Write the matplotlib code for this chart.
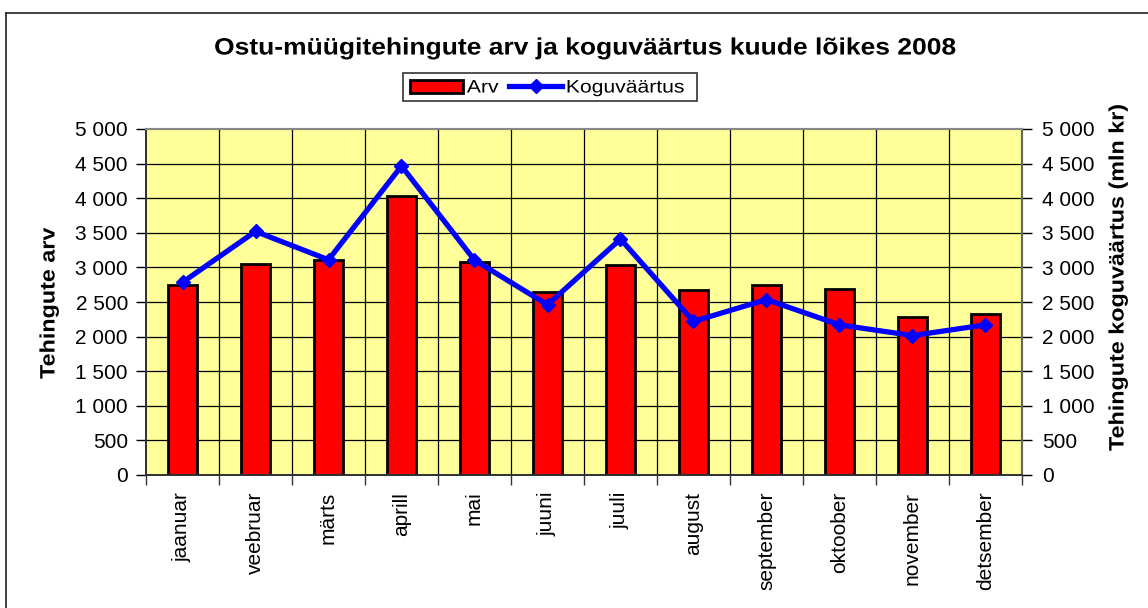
import matplotlib
matplotlib.use("Agg")
import matplotlib.pyplot as plt
from matplotlib.lines import Line2D
from matplotlib.patches import Patch, Rectangle
from matplotlib.patheffects import AbstractPathEffect
from matplotlib.transforms import Affine2D
import numpy as np

months = ["jaanuar", "veebruar", "märts", "aprill", "mai", "juuni", "juuli",
          "august", "september", "oktoober", "november", "detsember"]
arv = [2750, 3050, 3105, 4035, 3085, 2645, 3035, 2675, 2740, 2685, 2290, 2330]
koguvaartus = [2785, 3520, 3110, 4465, 3105, 2460, 3410, 2220, 2535, 2170, 2015, 2170]
yticks = [0, 500, 1000, 1500, 2000, 2500, 3000, 3500, 4000, 4500, 5000]
ytick_labels = ["0", "500", "1 000", "1 500", "2 000", "2 500", "3 000",
                "3 500", "4 000", "4 500", "5 000"]

plt.rcParams['font.family'] = ['Liberation Sans', 'DejaVu Sans']


class HStretch(AbstractPathEffect):
    """Stretch text horizontally (along its baseline) around an anchor."""
    def __init__(self, sx, anchor="center"):
        super().__init__()
        self.sx = sx
        self.anchor = anchor

    def draw_path(self, renderer, gc, tpath, affine, rgbFace=None):
        ext = tpath.get_extents()
        if self.anchor == "center":
            cx = 0.5 * (ext.x0 + ext.x1)
        elif self.anchor == "left":
            cx = ext.x0
        else:
            cx = ext.x1
        t = Affine2D().translate(-cx, 0).scale(self.sx, 1).translate(cx, 0)
        renderer.draw_path(gc, tpath, t + affine, rgbFace)


W, H = 1148, 608
fig = plt.figure(figsize=(W / 100, H / 100), dpi=100)
fig.patch.set_facecolor("white")

# figure border (left and top visible)
fig.add_artist(Line2D([6 / W, 6 / W], [0, 1 - 12.5 / H], transform=fig.transFigure, color="#222222", lw=1.2))
fig.add_artist(Line2D([6 / W, 1], [1 - 12.5 / H, 1 - 12.5 / H], transform=fig.transFigure, color="#222222", lw=1.2))

left, right = 146 / W, 1022 / W
bottom, top = (H - 475) / H, (H - 129) / H
ax = fig.add_axes([left, bottom, right - left, top - bottom])
ax.set_facecolor("#FFFF99")

x = np.arange(len(months))
ax.bar(x, arv, width=0.41, color="#FF0000", edgecolor="black", linewidth=2.0, zorder=3)
ax.set_xlim(-0.5, len(months) - 0.5)
ax.set_ylim(0, 5000)

ax2 = ax.twinx()
ax2.plot(x, koguvaartus, color="#0000FF", lw=3.8, marker="D", markersize=7, zorder=5)
ax2.set_ylim(0, 5000)

# grid
for v in yticks[1:-1]:
    ax.axhline(v, color="black", lw=0.9, zorder=1)
for b in np.arange(0.5, len(months) - 0.5, 1):
    ax.axvline(b, color="black", lw=0.9, zorder=1)

ax.set_yticks(yticks)
ax.set_yticklabels(ytick_labels, fontsize=15)
ax2.set_yticks(yticks)
ax2.set_yticklabels(ytick_labels, fontsize=15)

ax.set_xticks(np.arange(-0.5, len(months), 1), minor=False)
ax.set_xticklabels([])
ax.set_xticks(x, minor=True)
ax.set_xticklabels(months, minor=True, rotation=90, fontsize=15, va="top")
ax.tick_params(axis="x", which="major", length=7, width=1, direction="out", color="#333333")
ax.tick_params(axis="x", which="minor", length=0, pad=12)
ax.tick_params(axis="y", length=7, width=1, direction="out", pad=6)
ax2.tick_params(axis="y", length=7, width=1, direction="out", pad=7.5)

for a in (ax, ax2):
    a.spines["top"].set_color("#888888")
    a.spines["top"].set_linewidth(1.5)
    a.spines["left"].set_color("#333333")
    a.spines["left"].set_linewidth(1.3)
    a.spines["right"].set_color("#666666")
    a.spines["right"].set_linewidth(1.5)
    a.spines["bottom"].set_color("#333333")
    a.spines["bottom"].set_linewidth(1.3)

# axis titles
fig.text(49 / W, 1 - 303 / H, "Tehingute arv", rotation=90, ha="center", va="center",
         fontsize=15, fontweight="bold", path_effects=[HStretch(1.12)])
fig.text(1118 / W, 1 - 277 / H, "Tehingute koguväärtus (mln kr)", rotation=90, ha="center",
         va="center", fontsize=15, fontweight="bold", path_effects=[HStretch(1.12)])

# title
fig.text(586 / W, 1 - 48 / H, "Ostu-müügitehingute arv ja koguväärtus kuude lõikes 2008",
         ha="center", va="center", fontsize=17, fontweight="bold", path_effects=[HStretch(1.12)])

# legend
fig.add_artist(Rectangle((403 / W, 1 - 101 / H), 294 / W, 28 / H, transform=fig.transFigure,
                         fill=True, facecolor="white", edgecolor="#333333", lw=1.2, zorder=2))
handles = [Patch(facecolor="#FF0000", edgecolor="black", linewidth=2.0),
           Line2D([0], [0], color="#0000FF", lw=3.8, marker="D", markersize=7)]
leg = fig.legend(handles, ["Arv", "Koguväärtus"], loc="center left",
                 bbox_to_anchor=(410 / W, 1 - 88 / H), ncol=2, fontsize=13,
                 frameon=False, handlelength=2.95, handleheight=0.7,
                 handletextpad=0.2, columnspacing=0.85,
                 borderpad=0, borderaxespad=0)
leg.set_zorder(3)
for t in leg.get_texts():
    t.set_path_effects([HStretch(1.17, "left")])

fig.savefig("out.png", dpi=100, facecolor="white")
